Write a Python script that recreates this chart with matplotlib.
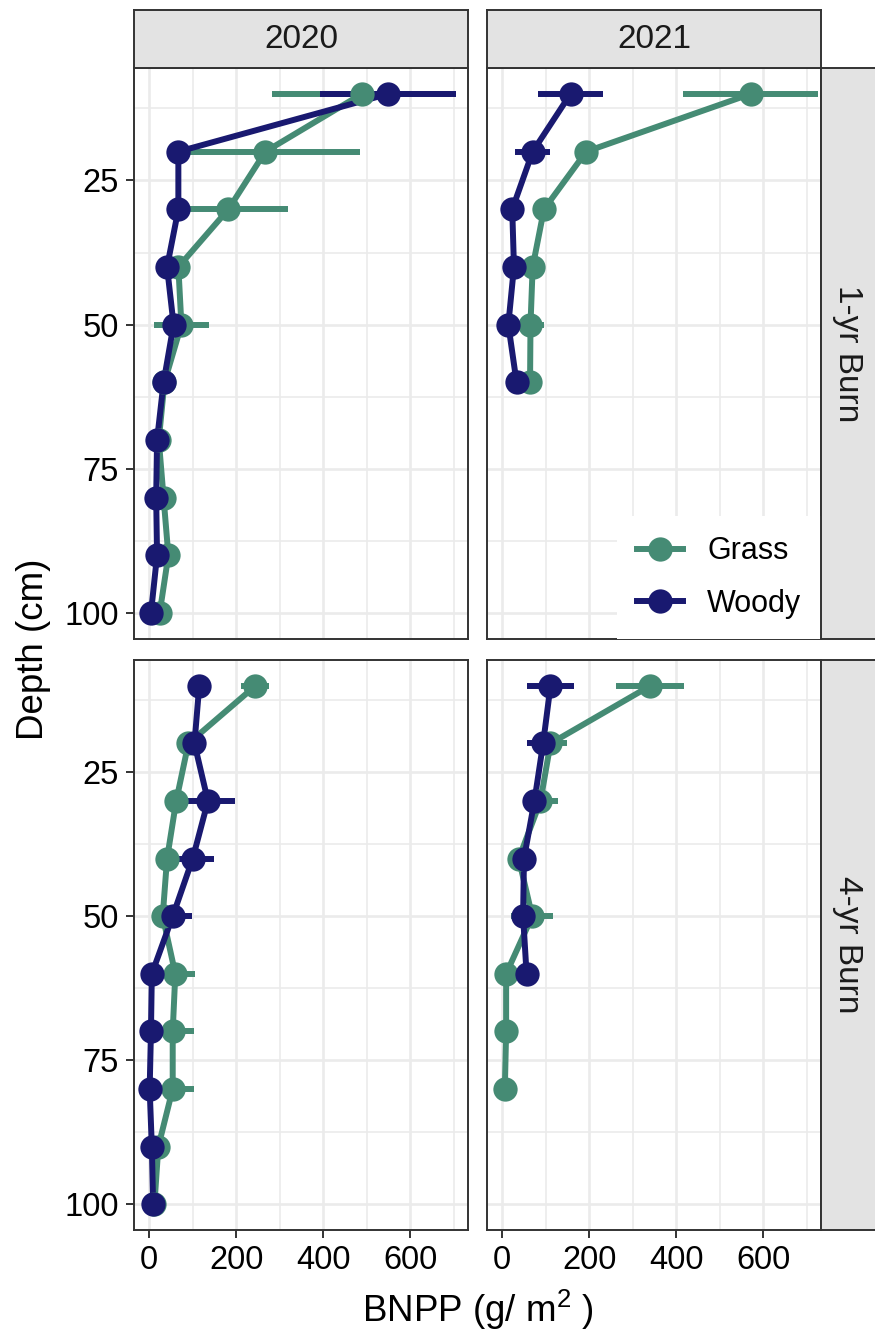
import matplotlib.pyplot as plt
from matplotlib.lines import Line2D

plt.rcParams['font.family'] = ['Liberation Sans', 'DejaVu Sans']
plt.rcParams['mathtext.fontset'] = 'custom'
plt.rcParams['mathtext.rm'] = 'Liberation Sans'
plt.rcParams['mathtext.it'] = 'Liberation Sans'
plt.rcParams['mathtext.bf'] = 'Liberation Sans'

# depth layers (cm)
depth = [10, 20, 30, 40, 50, 60, 70, 80, 90, 100]
years = ['2020', '2021']
burns = ['1-yr Burn', '4-yr Burn']

# BNPP means and standard errors (g/m2)
grass_1yr_2020 = [489, 267, 182, 67, 74, 35, 22, 33, 44, 24]
grass_1yr_2020_se = [206, 218, 137, 15, 64, 10, 8, 10, 10, 8]
woody_1yr_2020 = [549, 67, 67, 41, 56, 33, 18, 16, 18, 4]
woody_1yr_2020_se = [156, 15, 12, 10, 12, 8, 5, 5, 5, 3]

grass_1yr_2021 = [571, 193, 96, 70, 65, 64]
grass_1yr_2021_se = [155, 20, 15, 12, 31, 10]
woody_1yr_2021 = [157, 70, 23, 27, 14, 33]
woody_1yr_2021_se = [75, 40, 8, 8, 8, 8]

grass_4yr_2020 = [244, 90, 62, 41, 31, 60, 54, 54, 21, 12]
grass_4yr_2020_se = [32, 10, 10, 8, 8, 46, 48, 48, 8, 5]
woody_4yr_2020 = [115, 104, 135, 100, 54, 6, 4, 1, 6, 9]
woody_4yr_2020_se = [10, 10, 63, 48, 44, 3, 3, 2, 3, 3]

grass_4yr_2021 = [340, 111, 88, 38, 69, 9, 9, 6]
grass_4yr_2021_se = [79, 38, 41, 10, 48, 5, 5, 4]
woody_4yr_2021 = [111, 94, 74, 50, 48, 56]
woody_4yr_2021_se = [54, 37, 10, 8, 8, 8]

panels = {
    (0, 0): (grass_1yr_2020, grass_1yr_2020_se, woody_1yr_2020, woody_1yr_2020_se),
    (0, 1): (grass_1yr_2021, grass_1yr_2021_se, woody_1yr_2021, woody_1yr_2021_se),
    (1, 0): (grass_4yr_2020, grass_4yr_2020_se, woody_4yr_2020, woody_4yr_2020_se),
    (1, 1): (grass_4yr_2021, grass_4yr_2021_se, woody_4yr_2021, woody_4yr_2021_se),
}

GRASS = '#458B74'
WOODY = '#191970'
BORDER = '#333333'
GRID = '#EBEBEB'
STRIP = '#E3E3E3'

W, H = 875, 1333
fig = plt.figure(figsize=(W / 100, H / 100), dpi=100)

# panel boxes in pixels: (left, right) and (top, bottom)
col_px = [(134, 468), (487, 821)]
row_px = [(68, 639), (660, 1230)]


def frac_box(x0, x1, y0, y1):
    return [x0 / W, 1 - y1 / H, (x1 - x0) / W, (y1 - y0) / H]


def style_box(ax):
    for s in ax.spines.values():
        s.set_color(BORDER)
        s.set_linewidth(1.4)


for (r, c), (g, g_se, w, w_se) in panels.items():
    ax = fig.add_axes(frac_box(*col_px[c], *row_px[r]))
    style_box(ax)
    ax.set_axisbelow(True)

    for vals, se, col, z in [(g, g_se, GRASS, 2), (w, w_se, WOODY, 3)]:
        d = depth[:len(vals)]
        ax.errorbar(vals, d, xerr=se, fmt='none', ecolor=col,
                    elinewidth=4.3, capsize=0, zorder=z)
    for vals, col, z in [(g, GRASS, 4), (w, WOODY, 5)]:
        d = depth[:len(vals)]
        ax.plot(vals, d, color=col, lw=4.3, zorder=z, solid_capstyle='butt')
    for vals, col, z in [(g, GRASS, 6), (w, WOODY, 7)]:
        d = depth[:len(vals)]
        ax.plot(vals, d, 'o', color=col, ms=17.5, mew=0, zorder=z)

    ax.set_xlim(-35, 733)
    ax.set_ylim(104.5, 5.5)
    ax.set_xticks([0, 200, 400, 600])
    ax.set_xticks([100, 300, 500, 700], minor=True)
    ax.set_yticks([25, 50, 75, 100])
    ax.set_yticks([12.5, 37.5, 62.5, 87.5], minor=True)
    ax.grid(which='major', color=GRID, lw=1.9)
    ax.grid(which='minor', color=GRID, lw=1.2)
    ax.tick_params(which='minor', length=0)
    ax.tick_params(which='major', length=6, width=1.4, color=BORDER,
                   labelsize=23.5, labelcolor='black', pad=5)
    if c == 1:
        ax.tick_params(axis='y', labelleft=False, length=0)
    if r == 0:
        ax.tick_params(axis='x', labelbottom=False, length=0)

    if (r, c) == (0, 1):
        handles = [Line2D([], [], color=GRASS, lw=4.3, marker='o', ms=17.5, mew=0),
                   Line2D([], [], color=WOODY, lw=4.3, marker='o', ms=17.5, mew=0)]
        leg = ax.legend(handles, ['Grass', 'Woody'], loc='lower right',
                        bbox_to_anchor=(1, 0), borderaxespad=0, frameon=True,
                        fancybox=False, framealpha=1, edgecolor='none',
                        fontsize=22, handlelength=1.5, handletextpad=0.8,
                        labelspacing=0.75, borderpad=0.65)
        leg.set_zorder(10)

# facet strips
for c, yr in enumerate(years):
    sax = fig.add_axes(frac_box(*col_px[c], 10, 68))
    sax.set_facecolor(STRIP)
    style_box(sax)
    sax.set_xticks([])
    sax.set_yticks([])
    sax.text(0.5, 0.5, yr, ha='center', va='center', fontsize=24,
             color='#1A1A1A', transform=sax.transAxes)

for r, burn in enumerate(burns):
    sax = fig.add_axes(frac_box(821, 885, *row_px[r]))
    sax.set_facecolor(STRIP)
    style_box(sax)
    sax.set_xticks([])
    sax.set_yticks([])
    sax.text(27 / 64, 0.5, burn, ha='center', va='center', fontsize=24,
             rotation=-90, color='#1A1A1A', transform=sax.transAxes)

fig.text(477.5 / W, 1 - 1310 / H, 'BNPP (g/ m$^2$ )', ha='center', va='center',
         fontsize=26.5)
fig.text(34 / W, 1 - 649 / H, 'Depth (cm)', ha='center', va='center',
         rotation=90, fontsize=26.5)

fig.savefig('out.png', dpi=100)
